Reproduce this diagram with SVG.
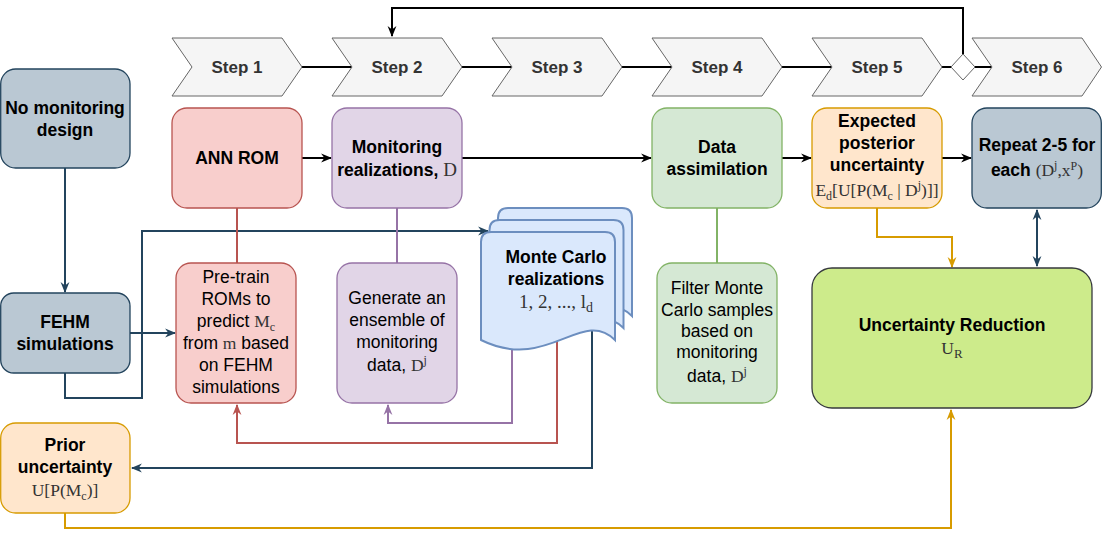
<svg xmlns="http://www.w3.org/2000/svg" width="1102" height="537" viewBox="0 0 1102 537">
<style>
.t{font-family:"Liberation Sans",Arial,sans-serif;font-size:17.5px;fill:#000;text-anchor:middle}
.b{font-weight:bold}
.s{font-family:"Liberation Sans",Arial,sans-serif;font-size:17px;font-weight:bold;fill:#333;text-anchor:middle}
.m{font-family:"Liberation Serif","Times New Roman",serif;fill:#333}
.step{fill:#f5f5f5;stroke:#666;stroke-width:1}
.c{fill:none;stroke-width:2}
.blue{fill:#bac8d3;stroke:#23445d;stroke-width:1.3}
.red{fill:#f8cecc;stroke:#b85450;stroke-width:1.3}
.pur{fill:#e1d5e7;stroke:#9673a6;stroke-width:1.3}
.grn{fill:#d5e8d4;stroke:#82b366;stroke-width:1.3}
.org{fill:#ffe6cc;stroke:#d79b00;stroke-width:1.3}
.doc{fill:#dae8fc;stroke:#6c8ebf;stroke-width:2}
</style>
<defs>
<marker id="aK" viewBox="0 0 10 10" refX="9" refY="5" markerWidth="11" markerHeight="11" markerUnits="userSpaceOnUse" orient="auto-start-reverse"><path d="M0,1 L10,5 L0,9 L3,5 z" fill="#000"/></marker>
<marker id="aB" viewBox="0 0 10 10" refX="9" refY="5" markerWidth="11" markerHeight="11" markerUnits="userSpaceOnUse" orient="auto-start-reverse"><path d="M0,1 L10,5 L0,9 L3,5 z" fill="#23445d"/></marker>
<marker id="aR" viewBox="0 0 10 10" refX="9" refY="5" markerWidth="11" markerHeight="11" markerUnits="userSpaceOnUse" orient="auto-start-reverse"><path d="M0,1 L10,5 L0,9 L3,5 z" fill="#b85450"/></marker>
<marker id="aP" viewBox="0 0 10 10" refX="9" refY="5" markerWidth="11" markerHeight="11" markerUnits="userSpaceOnUse" orient="auto-start-reverse"><path d="M0,1 L10,5 L0,9 L3,5 z" fill="#9673a6"/></marker>
<marker id="aO" viewBox="0 0 10 10" refX="9" refY="5" markerWidth="11" markerHeight="11" markerUnits="userSpaceOnUse" orient="auto-start-reverse"><path d="M0,1 L10,5 L0,9 L3,5 z" fill="#d79b00"/></marker>
</defs>
<rect width="1102" height="537" fill="#fff"/>

<g id="connectors">
<path class="c" stroke="#000" d="M302,67 H352 M462,67 H512 M622,67 H672 M782,67 H832 M942,67 H951 M975,67 H992"/>
<path class="c" stroke="#000" d="M963,54 V8 H392 V36" marker-end="url(#aK)"/>
<path class="c" stroke="#000" d="M302,158 H331" marker-end="url(#aK)"/>
<path class="c" stroke="#000" d="M462,158 H651" marker-end="url(#aK)"/>
<path class="c" stroke="#000" d="M782,158 H811" marker-end="url(#aK)"/>
<path class="c" stroke="#000" d="M942,158 H971" marker-end="url(#aK)"/>
<path class="c" stroke="#23445d" d="M65,168 V292" marker-end="url(#aB)"/>
<path class="c" stroke="#23445d" d="M130,333 H175" marker-end="url(#aB)"/>
<path class="c" stroke="#23445d" d="M65,373 V398 H142 V231 H488" marker-end="url(#aB)"/>
<path class="c" stroke="#23445d" d="M592,330 V468 H132" marker-end="url(#aB)"/>
<path class="c" stroke="#23445d" d="M1037,210 V266" marker-start="url(#aB)" marker-end="url(#aB)"/>
<path class="c" stroke="#b85450" d="M237,208 V263"/>
<path class="c" stroke="#b85450" d="M557,330 V443 H237 V405" marker-end="url(#aR)"/>
<path class="c" stroke="#9673a6" d="M397,208 V263"/>
<path class="c" stroke="#9673a6" d="M512,340 V423 H388 V405" marker-end="url(#aP)"/>
<path class="c" stroke="#82b366" d="M717,208 V263"/>
<path class="c" stroke="#d79b00" d="M877,208 V237 H952 V267" marker-end="url(#aO)"/>
<path class="c" stroke="#d79b00" d="M65,513 V528 H951 V410" marker-end="url(#aO)"/>
</g>

<g id="steps">
<g id="step1"><polygon class="step" points="172,38 282,38 302,67 282,96 172,96 192,67"/><text class="s" x="237" y="73">Step 1</text></g>
<g id="step2"><polygon class="step" points="332,38 442,38 462,67 442,96 332,96 352,67"/><text class="s" x="397" y="73">Step 2</text></g>
<g id="step3"><polygon class="step" points="492,38 602,38 622,67 602,96 492,96 512,67"/><text class="s" x="557" y="73">Step 3</text></g>
<g id="step4"><polygon class="step" points="652,38 762,38 782,67 762,96 652,96 672,67"/><text class="s" x="717" y="73">Step 4</text></g>
<g id="step5"><polygon class="step" points="812,38 922,38 942,67 922,96 812,96 832,67"/><text class="s" x="877" y="73">Step 5</text></g>
<g id="decision"><polygon points="963,54 975,67 963,80 951,67" fill="#fff" stroke="#666" stroke-width="1"/></g>
<g id="step6"><polygon class="step" points="972,38 1082,38 1101.5,67 1082,96 972,96 992,67"/><text class="s" x="1037" y="73">Step 6</text></g>
</g>

<g id="no-monitoring">
<rect class="blue" x="0.7" y="69" width="129.3" height="99" rx="15"/>
<text class="t b" x="65" y="114">No monitoring</text>
<text class="t b" x="65" y="136">design</text>
</g>
<g id="fehm">
<rect class="blue" x="0.7" y="293" width="129.3" height="80" rx="13"/>
<text class="t b" x="65" y="328">FEHM</text>
<text class="t b" x="65" y="350">simulations</text>
</g>
<g id="ann-rom">
<rect class="red" x="172" y="108" width="130" height="100" rx="15"/>
<text class="t b" x="237" y="164">ANN ROM</text>
</g>
<g id="pretrain">
<rect class="red" x="176" y="263" width="120" height="140" rx="15"/>
<text class="t" x="236" y="283">Pre-train</text>
<text class="t" x="236" y="305">ROMs to</text>
<text class="t" x="236" y="327">predict <tspan class="m">M</tspan><tspan class="m" font-size="12" dy="4">c</tspan></text>
<text class="t" x="236" y="349">from <tspan class="m">m</tspan> based</text>
<text class="t" x="236" y="371">on FEHM</text>
<text class="t" x="236" y="393">simulations</text>
</g>
<g id="monitoring-realizations">
<rect class="pur" x="332" y="108" width="130" height="100" rx="15"/>
<text class="t b" x="397" y="153">Monitoring</text>
<text class="t b" x="397" y="176">realizations, <tspan class="m" font-weight="normal" font-size="19">D</tspan></text>
</g>
<g id="generate">
<rect class="pur" x="337" y="263" width="120" height="140" rx="15"/>
<text class="t" x="397" y="304">Generate an</text>
<text class="t" x="397" y="326">ensemble of</text>
<text class="t" x="397" y="348">monitoring</text>
<text class="t" x="397" y="371">data, <tspan class="m">D</tspan><tspan class="m" font-size="12" dy="-7">j</tspan></text>
</g>
<g id="monte-carlo">
<path class="doc" d="M498,218 Q498,208 508,208 H622 Q632,208 632,218 V316 C598.5,283 565,349 498,316 Z"/>
<path class="doc" d="M489.5,230 Q489.5,220 499.5,220 H613.5 Q623.5,220 623.5,230 V328 C590,295 556.5,361 489.5,328 Z"/>
<path class="doc" d="M481,242 Q481,232 491,232 H605 Q615,232 615,242 V340 C581.5,307 548,373 481,340 Z"/>
<text class="t b" x="556" y="263">Monte Carlo</text>
<text class="t b" x="556" y="285">realizations</text>
<text class="t m" x="556" y="308" style="font-size:19px">1, 2, ..., l<tspan font-size="14" dy="4">d</tspan></text>
</g>
<g id="data-assimilation">
<rect class="grn" x="652" y="108" width="130" height="100" rx="15"/>
<text class="t b" x="717" y="153">Data</text>
<text class="t b" x="717" y="175">assimilation</text>
</g>
<g id="filter">
<rect class="grn" x="657" y="263" width="120" height="140" rx="15"/>
<text class="t" x="717" y="294">Filter Monte</text>
<text class="t" x="717" y="316">Carlo samples</text>
<text class="t" x="717" y="337">based on</text>
<text class="t" x="717" y="358">monitoring</text>
<text class="t" x="717" y="382">data, <tspan class="m">D</tspan><tspan class="m" font-size="12" dy="-7">j</tspan></text>
</g>
<g id="expected">
<rect class="org" x="812" y="108" width="130" height="100" rx="15"/>
<text class="t b" x="877" y="127">Expected</text>
<text class="t b" x="877" y="149">posterior</text>
<text class="t b" x="877" y="171">uncertainty</text>
<text class="t m" x="877" y="196">E<tspan font-size="12" dy="4">d</tspan><tspan dy="-4">[U[P(M</tspan><tspan font-size="12" dy="4">c</tspan><tspan dy="-4"> | D</tspan><tspan font-size="12" dy="-7">j</tspan><tspan dy="7">)]]</tspan></text>
</g>
<g id="repeat">
<rect class="blue" x="972" y="108" width="129.3" height="100" rx="15"/>
<text class="t b" x="1037" y="151">Repeat 2-5 for</text>
<text class="t b" x="1037" y="176">each <tspan class="m" font-weight="normal">(D</tspan><tspan class="m" font-weight="normal" font-size="12" dy="-7">j</tspan><tspan class="m" font-weight="normal" dy="7">,x</tspan><tspan class="m" font-weight="normal" font-size="12" dy="-6">P</tspan><tspan class="m" font-weight="normal" dy="6">)</tspan></text>
</g>
<g id="uncertainty-reduction">
<rect x="812" y="268" width="280" height="140" rx="20" fill="#cdeb8b" stroke="#36393d" stroke-width="1.3"/>
<text class="t b" x="952" y="331">Uncertainty Reduction</text>
<text class="t m" x="952" y="354">U<tspan font-size="13" dy="4">R</tspan></text>
</g>
<g id="prior">
<rect class="org" x="0.7" y="423" width="129.3" height="90" rx="15"/>
<text class="t b" x="65" y="451">Prior</text>
<text class="t b" x="65" y="473">uncertainty</text>
<text class="t m" x="65" y="496">U[P(M<tspan font-size="12" dy="4">c</tspan><tspan dy="-4">)]</tspan></text>
</g>
</svg>
